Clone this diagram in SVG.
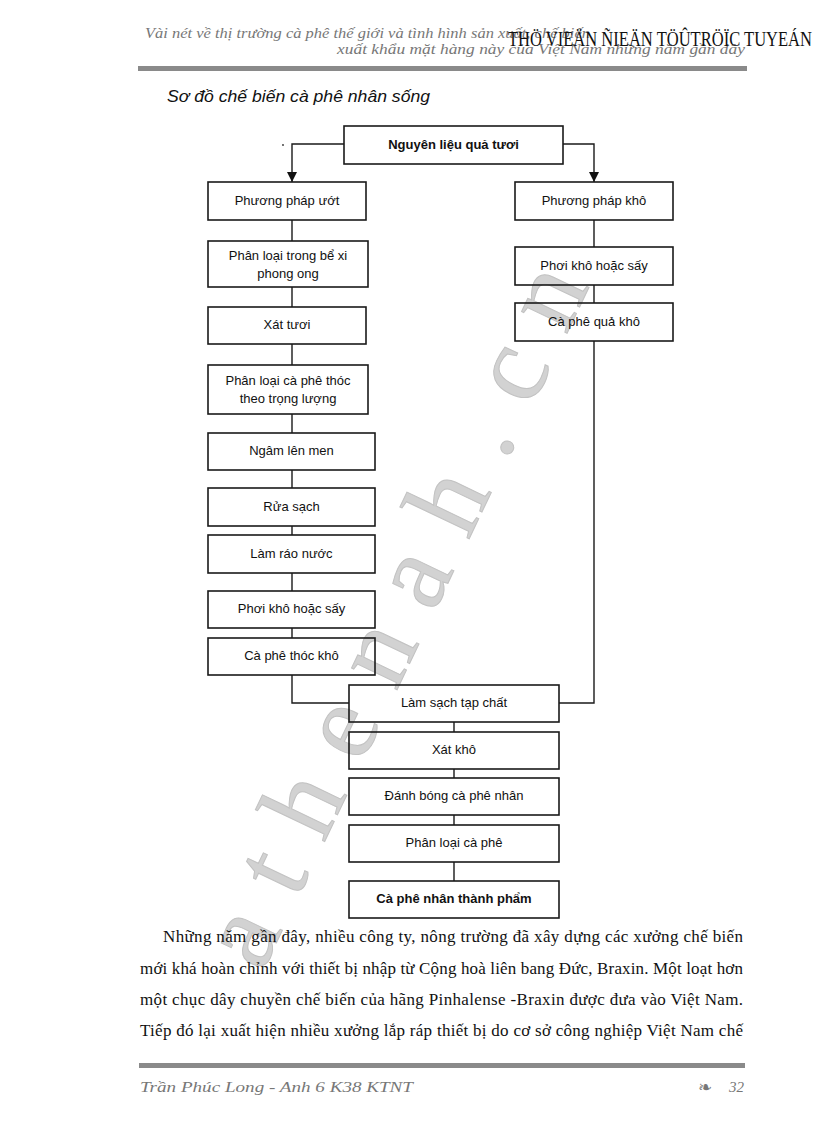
<svg xmlns="http://www.w3.org/2000/svg" width="816" height="1123" viewBox="0 0 816 1123">
<style>
.box{fill:none;stroke:#1a1a1a;stroke-width:1.6}
.lbl{font-family:"Liberation Sans",Arial,sans-serif;font-size:13px;fill:#111;text-anchor:middle}
.bold{font-weight:bold}
.con{fill:none;stroke:#1a1a1a;stroke-width:1.4}
.hdr{font-family:"Liberation Serif","Times New Roman",serif;font-style:italic;font-size:15px;fill:#777}
.body{font-family:"Liberation Serif","Times New Roman",serif;font-size:17px;fill:#111}
.bar{fill:#8a8a8a}
</style>
<defs>
<marker id="arr" viewBox="0 0 10 10" refX="10" refY="5" markerWidth="10" markerHeight="10" markerUnits="userSpaceOnUse" orient="auto">
<path d="M0,0 L10,5 L0,10 Z" fill="#111"/>
</marker>
</defs>
<rect width="816" height="1123" fill="#fff"/>

<!-- watermark -->
<text transform="translate(262,973) rotate(-64.5)" font-family="Liberation Serif,serif" font-size="110" letter-spacing="32" fill="#d2d2d2" stroke="#c2c2c2" stroke-width="1">athenah.cn</text>

<!-- header -->
<text class="hdr" x="145" y="38" textLength="445" lengthAdjust="spacingAndGlyphs">Vài nét về thị trường cà phê thế giới và tình hình sản xuất, chế biến</text>
<text class="hdr" x="337" y="54" textLength="408" lengthAdjust="spacingAndGlyphs">xuất khẩu mặt hàng này của Việt Nam những năm gần đây</text>
<text x="508" y="46" font-family="Liberation Serif,serif" font-size="20" fill="#111" textLength="304" lengthAdjust="spacingAndGlyphs">THÖ VIEÄN ÑIEÄN TÖÛTRÖÏC TUYEÁN</text>
<rect class="bar" x="138" y="66" width="609" height="5"/>

<text x="167" y="102" font-family="Liberation Sans,Arial,sans-serif" font-style="italic" font-size="17" fill="#111" textLength="263" lengthAdjust="spacingAndGlyphs">Sơ đồ chế biến cà phê nhân sống</text>

<!-- connectors -->
<g id="connectors">
<path class="con" d="M344,144 H292 V182" marker-end="url(#arr)"/>
<path class="con" d="M563,144 H594 V182" marker-end="url(#arr)"/>
<circle cx="283" cy="145" r="0.9" fill="#333"/>
<path class="con" d="M292,220 V241 M292,287 V307 M292,344 V365 M292,414 V433 M292,470 V488 M292,526 V535 M292,573 V591 M292,628 V638 M292,675 V703 H349"/>
<path class="con" d="M594,220 V247 M594,285 V303 M594,341 V703 H559"/>
<path class="con" d="M454,722 V732 M454,769 V778 M454,815 V825 M454,862 V881"/>
</g>

<g id="n0"><rect class="box" x="344" y="126" width="219" height="38"/><text class="lbl bold" x="453.5" y="149">Nguyên liệu quả tươi</text></g>

<g id="b1"><rect class="box" x="208" y="182" width="158" height="38"/><text class="lbl" x="287" y="205">Phương pháp ướt</text></g>
<g id="b2"><rect class="box" x="208" y="241" width="160" height="46"/><text class="lbl" x="288" y="260">Phân loại trong bể xi</text><text class="lbl" x="288" y="278">phong ong</text></g>
<g id="b3"><rect class="box" x="208" y="307" width="158" height="37"/><text class="lbl" x="287" y="329">Xát tươi</text></g>
<g id="b4"><rect class="box" x="208" y="365" width="160" height="49"/><text class="lbl" x="288" y="385">Phân loại cà phê thóc</text><text class="lbl" x="288" y="403">theo trọng lượng</text></g>
<g id="b5"><rect class="box" x="208" y="433" width="167" height="37"/><text class="lbl" x="291.5" y="455">Ngâm lên men</text></g>
<g id="b6"><rect class="box" x="208" y="488" width="167" height="38"/><text class="lbl" x="291.5" y="511">Rửa sạch</text></g>
<g id="b7"><rect class="box" x="208" y="535" width="167" height="38"/><text class="lbl" x="291.5" y="558">Làm ráo nước</text></g>
<g id="b8"><rect class="box" x="208" y="591" width="167" height="37"/><text class="lbl" x="291.5" y="613">Phơi khô hoặc sấy</text></g>
<g id="b9"><rect class="box" x="208" y="638" width="167" height="37"/><text class="lbl" x="291.5" y="660">Cà phê thóc khô</text></g>

<g id="r1"><rect class="box" x="515" y="182" width="158" height="38"/><text class="lbl" x="594" y="205">Phương pháp khô</text></g>
<g id="r2"><rect class="box" x="515" y="247" width="158" height="38"/><text class="lbl" x="594" y="270">Phơi khô hoặc sấy</text></g>
<g id="r3"><rect class="box" x="515" y="303" width="158" height="38"/><text class="lbl" x="594" y="326">Cà phê quả khô</text></g>

<g id="c1"><rect class="box" x="349" y="685" width="210" height="37"/><text class="lbl" x="454" y="707">Làm sạch tạp chất</text></g>
<g id="c2"><rect class="box" x="349" y="732" width="210" height="37"/><text class="lbl" x="454" y="754">Xát khô</text></g>
<g id="c3"><rect class="box" x="349" y="778" width="210" height="37"/><text class="lbl" x="454" y="800">Đánh bóng cà phê nhân</text></g>
<g id="c4"><rect class="box" x="349" y="825" width="210" height="37"/><text class="lbl" x="454" y="847">Phân loại cà phê</text></g>
<g id="c5"><rect class="box" x="349" y="881" width="210" height="37"/><text class="lbl bold" x="454" y="903">Cà phê nhân thành phẩm</text></g>

<!-- body text -->
<text class="body" x="163" y="942" textLength="580" lengthAdjust="spacing">Những năm gần đây, nhiều công ty, nông trường đã xây dựng các xưởng chế biến</text>
<text class="body" x="140" y="974" textLength="603" lengthAdjust="spacing">mới khá hoàn chỉnh với thiết bị nhập từ Cộng hoà liên bang Đức, Braxin. Một loạt hơn</text>
<text class="body" x="140" y="1005" textLength="603" lengthAdjust="spacing">một chục dây chuyền chế biến của hãng Pinhalense -Braxin được đưa vào Việt Nam.</text>
<text class="body" x="140" y="1036" textLength="603" lengthAdjust="spacing">Tiếp đó lại xuất hiện nhiều xưởng lắp ráp thiết bị do cơ sở công nghiệp Việt Nam chế</text>

<!-- footer -->
<rect class="bar" x="139" y="1063" width="606" height="5"/>
<text class="hdr" x="140" y="1092" textLength="273" lengthAdjust="spacingAndGlyphs">Trần Phúc Long - Anh 6 K38 KTNT</text>
<text x="698" y="1093" font-family="DejaVu Sans,sans-serif" font-size="17" fill="#777">❧</text>
<text class="hdr" x="744" y="1092" font-size="16" text-anchor="end">32</text>
</svg>
